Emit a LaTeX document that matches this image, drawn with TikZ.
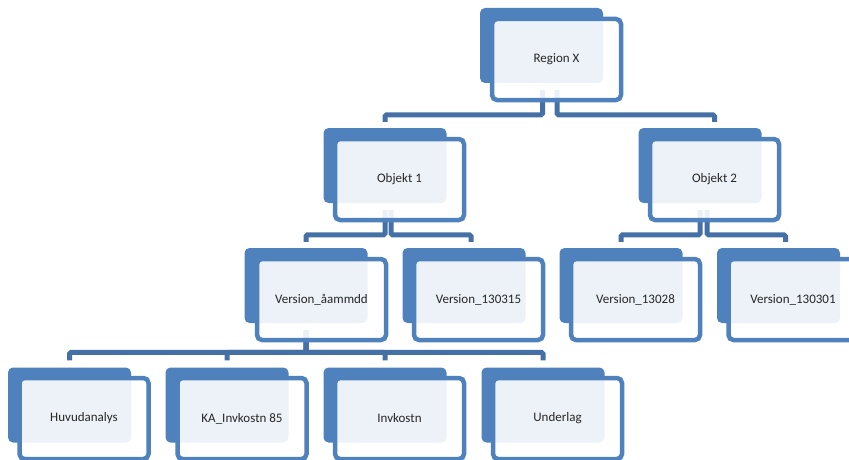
\documentclass[tikz,border=0pt]{standalone}
\usepackage{fontspec}
\setmainfont{Carlito}
\definecolor{boxblue}{HTML}{4F81BD}
\definecolor{linkblue}{HTML}{4570A6}
\definecolor{textgray}{HTML}{262626}

\begin{document}
\begin{tikzpicture}[x=1pt,y=-1pt,
		back/.style={rectangle,rounded corners=5pt,fill=boxblue,minimum width=123pt,minimum height=75pt,inner sep=0pt},
		front/.style={rectangle,rounded corners=5pt,draw=boxblue,line width=4.5pt,fill=white,fill opacity=0.9,text opacity=1,text=textgray,minimum width=129pt,minimum height=81pt,inner sep=0pt,font=\fontsize{13}{15}\selectfont},
		link/.style={draw=linkblue,line width=5pt,rounded corners=1.5pt}]
		\clip (0,0) rectangle (849,460);

		\node[back] (regx-b) at (541.5,45.5) {};
		\node[back] (obj1-b) at (385,165.5) {};
		\node[back] (obj2-b) at (700,165.5) {};
		\node[back] (ver1-b) at (306,285.5) {};
		\node[back] (ver2-b) at (464,285.5) {};
		\node[back] (ver3-b) at (621,285.5) {};
		\node[back] (ver4-b) at (778.5,285.5) {};
		\node[back] (huv-b) at (69.5,405) {};
		\node[back] (ka-b) at (227,405) {};
		\node[back] (invk-b) at (385,405) {};
		\node[back] (und-b) at (543,405) {};

		\draw[link] ([xshift=1pt,yshift=-7pt]regx-b.south) |- ([yshift=13pt]obj1-b.north) -- ([yshift=6pt]obj1-b.north);
		\draw[link] ([xshift=15.5pt,yshift=-7pt]regx-b.south) |- ([xshift=14.5pt,yshift=13pt]obj2-b.north) -- ([xshift=14.5pt,yshift=6pt]obj2-b.north);
		\draw[link] ([yshift=-7pt]obj1-b.south) |- ([yshift=13pt]ver1-b.north) -- ([yshift=6pt]ver1-b.north);
		\draw[link] ([xshift=6pt,yshift=-7pt]obj1-b.south) |- ([xshift=7pt,yshift=13pt]ver2-b.north) -- ([xshift=7pt,yshift=6pt]ver2-b.north);
		\draw[link] ([yshift=-7pt]obj2-b.south) |- ([yshift=13pt]ver3-b.north) -- ([yshift=6pt]ver3-b.north);
		\draw[link] ([xshift=7pt,yshift=-7pt]obj2-b.south) |- ([xshift=7pt,yshift=13pt]ver4-b.north) -- ([xshift=7pt,yshift=6pt]ver4-b.north);
		\draw[link] ([yshift=-7pt]ver1-b.south) |- ([yshift=15pt]huv-b.north) -- ([yshift=7pt]huv-b.north);
		\draw[link] ([yshift=-7pt]ver1-b.south) |- ([yshift=15pt]ka-b.north) -- ([yshift=7pt]ka-b.north);
		\draw[link] ([yshift=-7pt]ver1-b.south) |- ([yshift=15pt]invk-b.north) -- ([yshift=7pt]invk-b.north);
		\draw[link] ([yshift=-7pt]ver1-b.south) |- ([yshift=15pt]und-b.north) -- ([yshift=7pt]und-b.north);

		\node[front] (regx) at ([shift={(15,14)}]regx-b) {Region X};
		\node[front] (obj1) at ([shift={(14.5,14)}]obj1-b) {Objekt 1};
		\node[front] (obj2) at ([shift={(14.5,14)}]obj2-b) {Objekt 2};
		\node[front] (ver1) at ([shift={(15.5,14)}]ver1-b) {Version\_åammdd};
		\node[front] (ver2) at ([shift={(14.5,14)}]ver2-b) {Version\_130315};
		\node[front] (ver3) at ([shift={(14.5,14)}]ver3-b) {Version\_13028};
		\node[front] (ver4) at ([shift={(14.5,14)}]ver4-b) {Version\_130301};
		\node[front] (huv) at ([shift={(14.5,13.5)}]huv-b) {Huvudanalys};
		\node[front] (ka) at ([shift={(15,13.5)}]ka-b) {KA\_Invkostn 85};
		\node[front] (invk) at ([shift={(14.5,13.5)}]invk-b) {Invkostn};
		\node[front] (und) at ([shift={(14.5,13.5)}]und-b) {Underlag};
	\end{tikzpicture}
\end{document}
